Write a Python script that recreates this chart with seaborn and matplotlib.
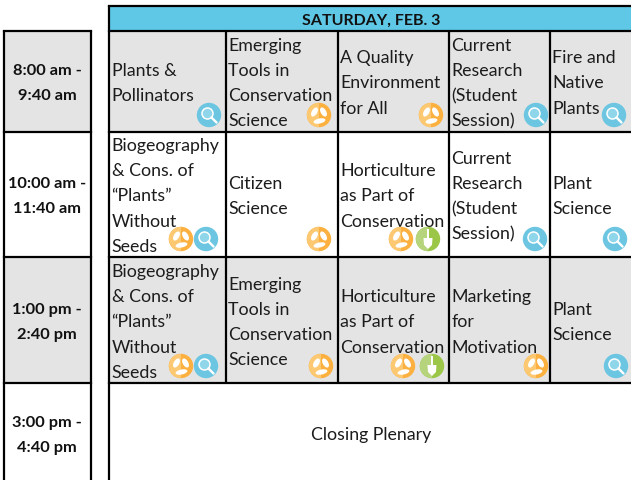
"""Conference schedule grid for Saturday, drawn as a pixel-sized seaborn heatmap."""

import matplotlib.pyplot as plt
import numpy as np
import seaborn as sns
from matplotlib.colors import ListedColormap
from matplotlib.patches import Circle, Ellipse, Polygon, Rectangle, Wedge

W, H = 631, 481

HEADER = "SATURDAY, FEB. 3"
CLOSING = "Closing Plenary"
TIMES = [
    ["8:00 am -", "9:40 am"],
    ["10:00 am -", "11:40 am"],
    ["1:00 pm -", "2:40 pm"],
    ["3:00 pm -", "4:40 pm"],
]
SESSIONS = [
    [
        (["Plants &", "Pollinators"], "m"),
        (["Emerging", "Tools in", "Conservation", "Science"], "o"),
        (["A Quality", "Environment", "for All"], "o"),
        (["Current", "Research", "(Student", "Session)"], "m"),
        (["Fire and", "Native", "Plants"], "m"),
    ],
    [
        (["Biogeography", "& Cons. of", "\u201cPlants\u201d", "Without", "Seeds"], "om"),
        (["Citizen", "Science"], "o"),
        (["Horticulture", "as Part of", "Conservation"], "os"),
        (["Current", "Research", "(Student", "Session)"], "m"),
        (["Plant", "Science"], "m"),
    ],
    [
        (["Biogeography", "& Cons. of", "\u201cPlants\u201d", "Without", "Seeds"], "om"),
        (["Emerging", "Tools in", "Conservation", "Science"], "o"),
        (["Horticulture", "as Part of", "Conservation"], "os"),
        (["Marketing", "for", "Motivation"], "o"),
        (["Plant", "Science"], "m"),
    ],
]
# icon centres per row, same order as the letters above
ICON_X = [
    [[209], [319], [431], [536], [614]],
    [[181, 206], [319], [401, 428], [535], [615]],
    [[181, 206], [321], [403, 432], [536], [616]],
]
ICON_Y = [116, 240, 367]

X_EDGES = [0, 4, 91, 109, 226, 338, 449, 550, 631]
Y_EDGES = [0, 6, 31, 132, 257, 383, 481]
ROW_MID = [83.5, 196.5, 322.5]
# 0 white, 1 grey, 2 blue
SHADE = np.array(
    [
        [0, 0, 0, 0, 0, 0, 0, 0],
        [0, 0, 0, 2, 2, 2, 2, 2],
        [0, 1, 0, 1, 1, 1, 1, 1],
        [0, 0, 0, 0, 0, 0, 0, 0],
        [0, 1, 0, 1, 1, 1, 1, 1],
        [0, 0, 0, 0, 0, 0, 0, 0],
    ]
)

BLUE = "#5fc8e6"
GREY = "#e4e4e4"
ORANGE = "#fbb040"
ORANGE_LIGHT = "#fdc872"
ICE = "#6cc6e2"
GREEN = "#9bc648"
GREEN_LIGHT = "#b5d47c"
LINE = "#000000"
TEXT = "#1c1c1c"
STEP = 25.2
LW = 1.6
NUDGE = 0.5  # horizontal lines sit half a pixel below the band edges


def draw_magnifier(ax, x, y):
    ax.add_patch(Circle((x, y), 12.2, fc=ICE, ec="none", zorder=3))
    ax.add_patch(Circle((x - 1.5, y - 1.5), 5.5, fc="#8fd6ea", ec="white", lw=1.1, zorder=4))
    ax.plot([x + 2.5, x + 7.5], [y + 2.5, y + 7.5], color="white", lw=1.7, zorder=4)


def draw_leaves(ax, x, y):
    ax.add_patch(Circle((x, y), 12.2, fc=ORANGE, ec="none", zorder=3))
    ax.add_patch(Wedge((x, y), 12.2, 90, 270, fc=ORANGE_LIGHT, ec="none", zorder=3))
    # two upper leaves lean out from the middle, the third lies flat below them
    for dx, dy, w, h, ang in [(-4.5, -3, 10, 5.5, -60), (4.5, -3, 10, 5.5, 60), (0.5, 6, 12, 5, -12)]:
        ax.add_patch(Ellipse((x + dx, y + dy), w, h, angle=ang, fc="white", ec="none", zorder=4))


def draw_shovel(ax, x, y):
    ax.add_patch(Circle((x, y), 12.2, fc=GREEN, ec="none", zorder=3))
    ax.add_patch(Wedge((x, y), 12.2, 90, 270, fc=GREEN_LIGHT, ec="none", zorder=3))
    ax.add_patch(Rectangle((x - 1, y - 10), 2, 10, fc="white", ec="none", zorder=4))
    ax.add_patch(
        Polygon(
            [(x - 4.5, y - 1), (x + 4.5, y - 1), (x + 4, y + 6), (x, y + 10), (x - 4, y + 6)],
            fc="white",
            ec="none",
            zorder=4,
        )
    )


ICONS = {"m": draw_magnifier, "o": draw_leaves, "s": draw_shovel}

sns.set_theme(style="white")
plt.rcParams["font.family"] = ["Lato", "DejaVu Sans"]

fig = plt.figure(figsize=(W / 100, H / 100), dpi=100)
ax = fig.add_axes([0, 0, 1, 1])

pixels = np.repeat(np.repeat(SHADE, np.diff(Y_EDGES), axis=0), np.diff(X_EDGES), axis=1)
sns.heatmap(
    pixels,
    ax=ax,
    cmap=ListedColormap(["white", GREY, BLUE]),
    vmin=0,
    vmax=2,
    cbar=False,
    xticklabels=False,
    yticklabels=False,
    rasterized=True,
)
ax.set_xlim(0, W)
ax.set_ylim(H, 0)

# time column
for y in [31, 132, 257, 383]:
    ax.plot([4, 91], [y + NUDGE, y + NUDGE], color=LINE, lw=LW, solid_capstyle="projecting")
for x in [4, 91]:
    ax.plot([x, x], [31 + NUDGE, H], color=LINE, lw=LW)

# main table
for y in [6, 31, 132, 257, 383]:
    ax.plot([109, W], [y + NUDGE, y + NUDGE], color=LINE, lw=LW, solid_capstyle="projecting")
ax.plot([109, 109], [6 + NUDGE, H], color=LINE, lw=LW)
for x in X_EDGES[4:-1]:
    ax.plot([x, x], [31 + NUDGE, 383 + NUDGE], color=LINE, lw=LW)

ax.text(371, 20.5, HEADER, ha="center", va="center", fontsize=11.5, fontweight="bold", color="#111111")

for lines, mid in zip(TIMES, [83.5, 196.5, 322.5, 435.5]):
    for i, line in enumerate(lines):
        ax.text(47, mid + (i - 0.5) * STEP, line, ha="center", va="center",
                fontsize=11.8, fontweight="bold", color="#111111")

for r, row in enumerate(SESSIONS):
    for c, (lines, icons) in enumerate(row):
        left = X_EDGES[c + 3] + 2.5
        for i, line in enumerate(lines):
            y = ROW_MID[r] + (i - (len(lines) - 1) / 2) * STEP
            ax.text(left, y, line, ha="left", va="center", fontsize=12.8, color=TEXT)
        for kind, x in zip(icons, ICON_X[r][c]):
            ICONS[kind](ax, x, ICON_Y[r])

ax.text(371, 435, CLOSING, ha="center", va="center", fontsize=12.8, color=TEXT)

fig.savefig("out.png", dpi=100)
